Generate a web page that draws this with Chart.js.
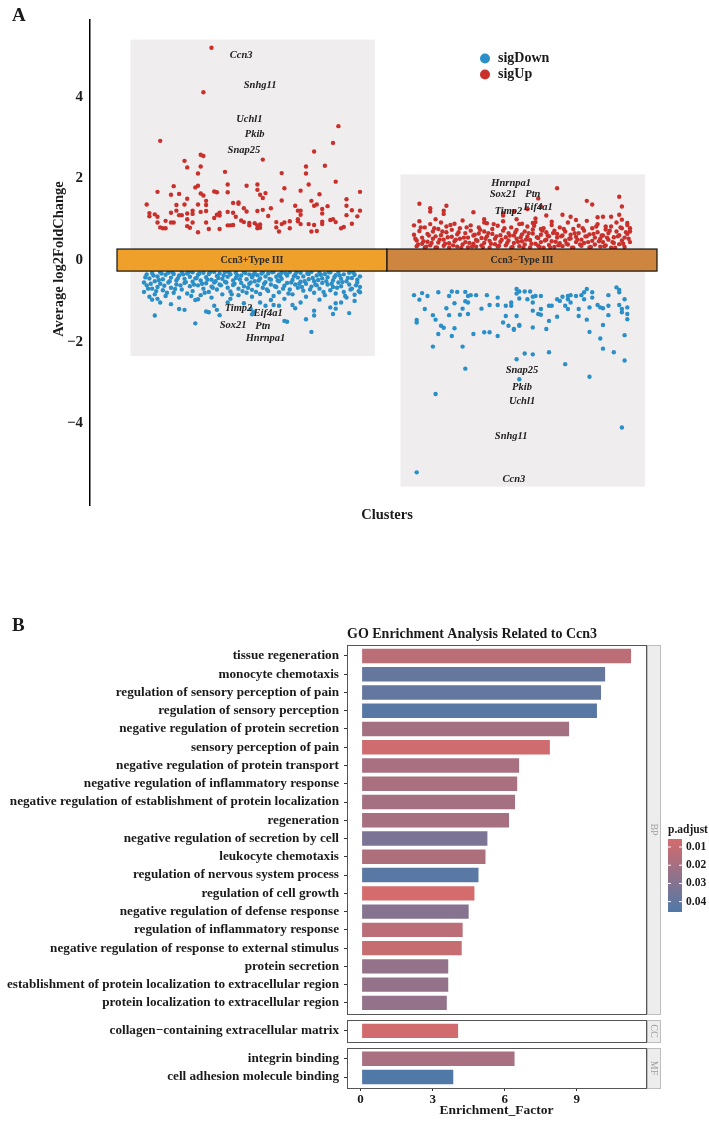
<!DOCTYPE html>
<html>
<head>
<meta charset="utf-8">
<script src="https://cdn.jsdelivr.net/npm/chart.js@4.4.1/dist/chart.umd.min.js"></script>
<style>
  body { margin: 0; background: #fff; }
  #page { position: relative; width: 709px; height: 1122px; overflow: hidden; }
  canvas { position: absolute; left: 0; }
  #volcano { top: 0; }
  #goBars { top: 600px; }
</style>
</head>
<body>
<div id="page">
  <canvas id="volcano" width="709" height="560"></canvas>
  <canvas id="goBars" width="709" height="522"></canvas>
</div>
<script>
// ---------- Panel A data: [jitter offset from cluster centre, average log2FC] ----------
const clusters = ['Ccn3+Type III', 'Ccn3\u2212Type III'];
const yTicksA = [-4, -2, 0, 2, 4];

const upCcn3Pos = [
  [-0.15,5.20],[-0.18,4.11],[-0.34,2.92],[0.32,3.28],[0.30,2.87],[0.23,2.66],[-0.19,2.58],[-0.18,2.55],[0.04,2.46],[-0.25,2.43],
  [-0.24,2.27],[-0.19,2.29],[-0.20,2.12],[-0.10,2.16],[0.11,2.13],[0.20,2.29],[0.20,2.12],[0.27,2.31],[0.31,1.92],[0.21,1.85],
  [0.12,1.76],[0.18,1.70],[0.40,1.67],[0.25,1.61],[0.35,1.49],[-0.35,1.67],[-0.29,1.81],[-0.30,1.60],[-0.27,1.62],[-0.21,1.78],
  [-0.20,1.82],[-0.19,1.63],[-0.18,1.58],[-0.14,1.68],[-0.13,1.66],[-0.09,1.85],[-0.09,1.66],[-0.02,1.82],[0.02,1.85],[0.02,1.72],
  [0.03,1.60],[0.05,1.64],[0.04,1.52],[-0.39,1.36],[-0.24,1.50],[-0.17,1.45],[-0.28,1.35],[-0.25,1.36],[-0.20,1.36],[-0.17,1.35],
  [-0.07,1.40],[-0.05,1.38],[-0.05,1.41],[-0.03,1.27],[-0.02,1.19],[0.02,1.20],[0.04,1.23],[0.07,1.27],[0.11,1.46],[0.16,1.33],
  [0.18,1.21],[0.22,1.45],[0.23,1.33],[0.24,1.36],[0.28,1.32],[0.26,1.25],[0.26,1.14],[0.35,1.33],[0.35,1.10],[0.37,1.22],
  [0.40,1.21],[0.39,1.07],[-0.38,1.15],[-0.38,1.07],[-0.36,1.12],[-0.35,1.06],[-0.30,1.16],[-0.28,1.21],[-0.27,1.10],[-0.26,1.10],
  [-0.24,1.14],[-0.22,1.21],[-0.22,1.13],[-0.19,1.18],[-0.17,1.20],[-0.13,1.11],[-0.12,1.16],[-0.07,1.16],[-0.06,1.06],[-0.04,0.97],
  [-0.35,0.92],[-0.34,0.80],[-0.33,0.78],[-0.32,0.78],[-0.32,0.96],[-0.30,0.92],[-0.29,0.92],[-0.24,1.00],[-0.24,0.83],[-0.23,0.79],
  [-0.22,0.92],[-0.20,0.68],[-0.17,0.92],[-0.16,0.76],[-0.14,1.03],[-0.12,0.76],[-0.09,0.85],[-0.08,0.85],[-0.07,0.86],[-0.03,0.93],
  [-0.01,0.91],[-0.01,0.85],[0.01,0.90],[0.02,0.78],[0.03,0.87],[0.03,0.79],[0.09,0.93],[0.09,0.80],[0.10,0.70],[0.11,0.88],
  [0.12,0.92],[0.14,0.95],[0.14,0.78],[0.17,0.95],[0.18,0.88],[0.17,1.00],[0.21,0.88],[0.22,0.70],[0.23,0.86],[0.24,0.71],
  [0.26,0.88],[0.26,0.94],[0.29,0.98],[0.30,1.00],[0.31,0.93],[0.33,0.78],[0.34,0.81],[0.37,0.89],[0.17,1.21],[0.18,1.11],
  [-0.12,1.09],[0.02,0.85],[0.06,1.08],[-0.09,1.18]
];

const downCcn3Pos = [
  [-0.40,-0.55],[-0.40,-0.78],[-0.39,-0.35],[-0.39,-0.62],[-0.38,-0.45],[-0.38,-0.90],[-0.37,-0.70],[-0.37,-0.32],[-0.36,-0.52],[-0.36,-0.84],
  [-0.35,-0.40],[-0.35,-0.66],[-0.35,-0.95],[-0.34,-0.30],[-0.34,-0.58],[-0.33,-0.47],[-0.33,-0.74],[-0.32,-0.36],[-0.32,-0.88],[-0.31,-0.55],
  [-0.31,-0.31],[-0.30,-0.68],[-0.30,-0.43],[-0.29,-0.80],[-0.29,-0.34],[-0.28,-0.50],[-0.28,-0.60],[-0.27,-0.38],[-0.27,-0.92],[-0.26,-0.29],
  [-0.26,-0.72],[-0.25,-0.46],[-0.25,-0.56],[-0.24,-0.33],[-0.24,-0.82],[-0.23,-0.64],[-0.23,-0.41],[-0.22,-0.30],[-0.22,-0.53],[-0.22,-0.76],
  [-0.21,-0.45],[-0.21,-0.98],[-0.20,-0.36],[-0.20,-0.62],[-0.19,-0.50],[-0.19,-0.86],[-0.18,-0.31],[-0.18,-0.70],[-0.17,-0.42],[-0.17,-0.57],
  [-0.16,-0.34],[-0.16,-0.78],[-0.15,-0.48],[-0.15,-0.65],[-0.15,-0.92],[-0.14,-0.29],[-0.14,-0.55],[-0.13,-0.39],[-0.13,-0.72],[-0.12,-0.60],
  [-0.12,-0.33],[-0.11,-0.46],[-0.11,-0.84],[-0.10,-0.30],[-0.10,-0.53],[-0.09,-0.68],[-0.09,-0.41],[-0.08,-0.35],[-0.08,-0.77],[-0.08,-0.95],
  [-0.07,-0.50],[-0.07,-0.61],[-0.06,-0.31],[-0.06,-0.44],[-0.05,-0.70],[-0.05,-0.86],[-0.04,-0.38],[-0.04,-0.56],[-0.03,-0.29],[-0.03,-0.64],
  [-0.02,-0.47],[-0.02,-0.80],[-0.01,-0.35],[-0.01,-0.58],[0.00,-0.42],[0.00,-0.73],[0.00,-0.90],[0.01,-0.31],[0.01,-0.52],[0.02,-0.62],
  [0.02,-0.37],[0.03,-0.45],[0.03,-0.83],[0.04,-0.30],[0.04,-0.68],[0.05,-0.54],[0.05,-0.40],[0.06,-0.33],[0.06,-0.76],[0.07,-0.48],
  [0.07,-0.60],[0.08,-0.29],[0.08,-0.88],[0.09,-0.41],[0.09,-0.66],[0.10,-0.35],[0.10,-0.52],[0.10,-0.79],[0.11,-0.46],[0.11,-0.31],
  [0.12,-0.63],[0.12,-0.95],[0.13,-0.38],[0.13,-0.56],[0.14,-0.30],[0.14,-0.72],[0.15,-0.49],[0.15,-0.84],[0.16,-0.36],[0.16,-0.60],
  [0.17,-0.43],[0.17,-0.68],[0.18,-0.31],[0.18,-0.53],[0.19,-0.75],[0.19,-0.40],[0.20,-0.58],[0.20,-0.90],[0.21,-0.34],[0.21,-0.47],
  [0.22,-0.65],[0.22,-0.29],[0.23,-0.52],[0.23,-0.80],[0.24,-0.38],[0.24,-0.62],[0.25,-0.31],[0.25,-0.70],[0.25,-0.97],[0.26,-0.45],
  [0.26,-0.56],[0.27,-0.34],[0.27,-0.86],[0.28,-0.60],[0.28,-0.42],[0.29,-0.30],[0.29,-0.74],[0.30,-0.50],[0.30,-0.66],[0.31,-0.37],
  [0.31,-0.82],[0.32,-0.29],[0.32,-0.55],[0.33,-0.46],[0.33,-0.64],[0.34,-0.35],[0.34,-0.78],[0.35,-0.52],[0.35,-0.92],[0.36,-0.31],
  [0.36,-0.60],[0.37,-0.44],[0.37,-0.70],[0.38,-0.36],[0.38,-0.85],[0.39,-0.55],[0.39,-0.48],[0.40,-0.40],[0.40,-0.66],
  [-0.395,-0.42],[-0.385,-0.70],[-0.375,-0.58],[-0.365,-0.38],[-0.355,-0.76],[-0.345,-0.49],[-0.335,-0.33],[-0.325,-0.63],[-0.315,-0.80],[-0.305,-0.52],
  [-0.295,-0.30],[-0.285,-0.71],[-0.275,-0.45],[-0.265,-0.62],[-0.255,-0.35],[-0.245,-0.54],[-0.235,-0.30],[-0.225,-0.88],[-0.215,-0.60],[-0.205,-0.44],
  [-0.195,-0.33],[-0.185,-0.58],[-0.175,-0.80],[-0.165,-0.48],[-0.155,-0.30],[-0.145,-0.68],[-0.135,-0.52],[-0.125,-0.44],[-0.115,-0.62],[-0.105,-0.38],
  [-0.095,-0.55],[-0.085,-0.30],[-0.075,-0.84],[-0.065,-0.58],[-0.055,-0.37],[-0.045,-0.47],[-0.035,-0.76],[-0.025,-0.32],[-0.015,-0.68],[-0.005,-0.55],
  [0.005,-0.36],[0.015,-0.78],[0.025,-0.50],[0.035,-0.33],[0.045,-0.58],[0.055,-0.72],[0.065,-0.46],[0.075,-0.30],[0.085,-0.64],[0.095,-0.50],
  [0.105,-0.40],[0.115,-0.70],[0.125,-0.33],[0.135,-0.82],[0.145,-0.55],[0.155,-0.40],[0.165,-0.30],[0.175,-0.58],[0.185,-0.66],[0.195,-0.52],
  [0.205,-0.33],[0.215,-0.72],[0.225,-0.44],[0.235,-0.60],[0.245,-0.49],[0.255,-0.36],[0.265,-0.78],[0.275,-0.52],[0.285,-0.30],[0.295,-0.58],
  [0.305,-0.42],[0.315,-0.68],[0.325,-0.38],[0.335,-0.54],[0.345,-0.88],[0.355,-0.44],[0.365,-0.72],[0.375,-0.30],[0.385,-0.62],[0.395,-0.76],
  [-0.36,-1.36],[-0.37,-0.97],[-0.34,-1.04],[-0.30,-1.08],[-0.27,-1.20],[-0.25,-1.22],[-0.21,-1.55],[-0.20,-0.96],[-0.17,-1.26],[-0.14,-1.12],
  [-0.13,-1.22],[-0.12,-1.35],[-0.09,-1.04],[-0.03,-1.06],[-0.005,-1.20],[0.005,-1.27],[0.03,-1.04],[0.05,-1.12],[0.07,-0.98],[0.08,-1.10],
  [0.10,-1.12],[0.12,-1.49],[0.16,-1.18],[0.18,-1.04],[0.20,-1.45],[0.22,-1.76],[0.23,-1.36],[0.23,-1.24],[0.29,-1.16],[0.31,-1.06],
  [0.31,-1.19],[0.33,-1.04],[0.36,-1.30],[0.38,-1.00],[0.40,-0.79],[0.13,-1.51],[-0.16,-1.28],[0.00,-1.33],[0.15,-1.10],[0.30,-1.32]
];

const upCcn3Neg = [
  [-0.40,0.62],[-0.40,0.85],[-0.39,0.34],[-0.39,0.48],[-0.38,0.71],[-0.38,0.95],[-0.37,0.40],[-0.37,0.55],[-0.36,0.30],[-0.36,0.80],
  [-0.35,0.64],[-0.35,0.45],[-0.34,0.88],[-0.34,0.36],[-0.33,0.52],[-0.33,0.70],[-0.32,0.31],[-0.32,0.58],[-0.31,0.76],[-0.31,0.43],
  [-0.30,0.92],[-0.30,0.61],[-0.29,0.35],[-0.29,0.50],[-0.28,0.68],[-0.28,0.82],[-0.27,0.41],[-0.27,0.30],[-0.26,0.57],[-0.26,0.74],
  [-0.25,0.46],[-0.25,0.89],[-0.24,0.33],[-0.24,0.63],[-0.23,0.52],[-0.23,0.78],[-0.22,0.38],[-0.22,0.97],[-0.21,0.66],[-0.21,0.44],
  [-0.20,0.31],[-0.20,0.55],[-0.19,0.72],[-0.19,0.85],[-0.18,0.40],[-0.18,0.60],[-0.17,0.49],[-0.17,0.33],[-0.16,0.80],[-0.16,0.65],
  [-0.15,0.36],[-0.15,0.54],[-0.14,0.42],[-0.14,0.70],[-0.13,0.58],[-0.13,0.90],[-0.12,0.30],[-0.12,0.47],[-0.11,0.64],[-0.11,0.76],
  [-0.10,0.39],[-0.10,0.52],[-0.09,0.84],[-0.09,0.33],[-0.08,0.61],[-0.08,0.45],[-0.07,0.72],[-0.07,0.95],[-0.06,0.36],[-0.06,0.56],
  [-0.05,0.48],[-0.05,0.66],[-0.04,0.30],[-0.04,0.80],[-0.03,0.42],[-0.03,0.60],[-0.02,0.52],[-0.02,0.74],[-0.01,0.34],[-0.01,0.88],
  [0.00,0.46],[0.00,0.63],[0.01,0.70],[0.01,0.38],[0.02,0.57],[0.02,0.82],[0.03,0.31],[0.03,0.49],[0.04,0.65],[0.04,0.75],
  [0.05,0.40],[0.05,0.93],[0.06,0.54],[0.06,0.35],[0.07,0.62],[0.07,0.44],[0.08,0.78],[0.08,0.30],[0.09,0.50],[0.09,0.68],
  [0.10,0.37],[0.10,0.58],[0.11,0.86],[0.11,0.46],[0.12,0.32],[0.12,0.72],[0.13,0.55],[0.13,0.64],[0.14,0.41],[0.14,0.80],
  [0.15,0.60],[0.15,0.34],[0.16,0.48],[0.16,0.70],[0.17,0.92],[0.17,0.38],[0.18,0.53],[0.18,0.62],[0.19,0.30],[0.19,0.76],
  [0.20,0.44],[0.20,0.57],[0.21,0.66],[0.21,0.84],[0.22,0.35],[0.22,0.50],[0.23,0.72],[0.23,0.42],[0.24,0.58],[0.24,0.96],
  [0.25,0.31],[0.25,0.63],[0.26,0.47],[0.26,0.78],[0.27,0.38],[0.27,0.55],[0.28,0.68],[0.28,0.88],[0.29,0.33],[0.29,0.52],
  [0.30,0.60],[0.30,0.44],[0.31,0.75],[0.31,0.36],[0.32,0.50],[0.32,0.66],[0.33,0.30],[0.33,0.82],[0.34,0.56],[0.34,0.42],
  [0.35,0.70],[0.35,0.92],[0.36,0.39],[0.36,0.61],[0.37,0.48],[0.37,0.78],[0.38,0.32],[0.38,0.55],[0.39,0.64],[0.39,0.86],
  [0.40,0.44],[0.40,0.70],
  [-0.395,0.52],[-0.385,0.38],[-0.375,0.80],[-0.365,0.46],[-0.355,0.33],[-0.345,0.60],[-0.335,0.42],[-0.325,0.78],[-0.315,0.30],[-0.305,0.50],
  [-0.295,0.70],[-0.285,0.40],[-0.275,0.56],[-0.265,0.86],[-0.255,0.36],[-0.245,0.50],[-0.235,0.68],[-0.225,0.30],[-0.215,0.55],[-0.205,0.80],
  [-0.195,0.42],[-0.185,0.33],[-0.175,0.62],[-0.165,0.47],[-0.155,0.74],[-0.145,0.31],[-0.135,0.52],[-0.125,0.66],[-0.115,0.40],[-0.105,0.88],
  [-0.095,0.58],[-0.085,0.35],[-0.075,0.50],[-0.065,0.78],[-0.055,0.42],[-0.045,0.60],[-0.035,0.32],[-0.025,0.68],[-0.015,0.45],[-0.005,0.56],
  [0.005,0.30],[0.015,0.50],[0.025,0.66],[0.035,0.40],[0.045,0.84],[0.055,0.56],[0.065,0.32],[0.075,0.72],[0.085,0.48],[0.095,0.60],
  [0.105,0.30],[0.115,0.66],[0.125,0.45],[0.135,0.36],[0.145,0.58],[0.155,0.76],[0.165,0.40],[0.175,0.52],[0.185,0.30],[0.195,0.66],
  [0.205,0.50],[0.215,0.38],[0.225,0.78],[0.235,0.58],[0.245,0.44],[0.255,0.32],[0.265,0.64],[0.275,0.82],[0.285,0.46],[0.295,0.60],
  [0.305,0.34],[0.315,0.55],[0.325,0.72],[0.335,0.44],[0.345,0.30],[0.355,0.58],[0.365,0.80],[0.375,0.40],[0.385,0.68],[0.395,0.52],
  [0.13,1.76],[-0.38,1.38],[-0.34,1.27],[-0.34,1.19],[-0.28,1.33],[-0.29,1.21],[-0.29,1.13],[-0.32,1.00],[-0.18,1.17],[-0.14,1.00],
  [-0.14,0.92],[-0.07,1.15],[-0.07,1.09],[-0.03,1.19],[-0.02,1.00],[0.06,1.51],[0.07,1.31],[0.09,1.09],[0.11,0.94],[0.15,1.11],
  [0.18,1.06],[0.20,0.98],[0.24,1.45],[0.26,1.36],[0.28,1.05],[0.30,1.06],[0.31,0.82],[0.33,1.06],[0.36,1.55],[0.37,1.31],
  [0.36,1.11],[0.37,0.99],[0.39,0.91],[0.40,0.78],[0.05,1.02],[0.02,1.25],[0.00,0.89],[0.04,0.91],[0.07,0.76]
];

const downCcn3Neg = [
  [-0.40,-0.86],[-0.38,-0.97],[-0.37,-0.81],[-0.35,-0.88],[-0.36,-1.20],[-0.39,-1.53],[-0.39,-1.47],[-0.33,-1.35],[-0.32,-1.46],[-0.31,-0.79],
  [-0.30,-1.61],[-0.29,-1.66],[-0.31,-1.81],[-0.33,-2.12],[-0.28,-1.18],[-0.27,-1.35],[-0.27,-0.88],[-0.26,-0.77],[-0.25,-1.06],[-0.26,-1.86],
  [-0.25,-1.67],[-0.24,-0.78],[-0.23,-1.34],[-0.22,-1.19],[-0.21,-0.78],[-0.21,-1.01],[-0.20,-0.88],[-0.20,-1.04],[-0.20,-1.32],[-0.19,-0.86],
  [-0.17,-0.86],[-0.22,-2.12],[-0.32,-3.28],[-0.39,-5.20],[-0.21,-2.66],[-0.18,-1.81],[-0.15,-1.19],[-0.14,-1.77],[-0.13,-0.86],[-0.12,-1.10],
  [-0.12,-1.77],[-0.09,-1.10],[-0.09,-1.86],[-0.09,-0.92],[-0.07,-1.53],[-0.06,-1.12],[-0.06,-1.37],[-0.05,-1.61],[-0.04,-1.12],[-0.04,-1.04],
  [-0.03,-1.71],[-0.03,-1.69],[-0.02,-0.71],[-0.02,-0.82],[-0.01,-1.61],[-0.01,-1.59],[-0.02,-1.37],[-0.01,-0.94],[-0.01,-0.77],[0.01,-0.77],
  [0.02,-0.96],[0.03,-0.77],[0.04,-0.90],[0.04,-1.04],[0.04,-1.24],[0.04,-1.65],[0.05,-0.88],[0.07,-0.88],[0.06,-1.32],[0.07,-1.34],
  [0.07,-1.20],[-0.02,-2.43],[0.01,-2.29],[0.04,-2.31],[-0.01,-2.92],[0.10,-2.26],[0.10,-1.49],[0.10,-1.12],[0.11,-1.12],[0.13,-0.96],
  [0.13,-1.39],[0.14,-1.00],[0.15,-0.90],[0.16,-1.12],[0.16,-2.55],[0.17,-0.88],[0.17,-0.96],[0.18,-0.86],[0.17,-1.20],[0.18,-1.04],
  [0.20,-0.88],[0.21,-1.20],[0.22,-0.86],[0.23,-0.79],[0.24,-0.71],[0.23,-0.96],[0.25,-1.16],[0.24,-1.46],[0.25,-1.76],[0.25,-2.86],
  [0.26,-0.79],[0.28,-1.10],[0.29,-1.16],[0.30,-1.59],[0.29,-1.92],[0.30,-1.18],[0.30,-2.17],[0.32,-1.12],[0.32,-1.35],[0.32,-0.86],
  [0.34,-2.26],[0.35,-0.67],[0.36,-0.73],[0.36,-1.10],[0.37,-1.20],[0.37,-1.28],[0.38,-0.96],[0.38,-1.84],[0.38,-2.46],[0.39,-1.16],
  [0.39,-1.32],[0.39,-1.45],[0.37,-4.10],[0.36,-0.79],[0.21,-1.37],[0.26,-0.92],[0.09,-1.69]
];

// shaded cluster boxes (log2FC range per cluster)
const boxTop = [5.40, 2.10];
const boxBottom = [-2.35, -5.55];

// labelled genes: [gene, offset, log2FC]
const genesPos = [
  ['Ccn3', -0.04, 5.01], ['Snhg11', 0.03, 4.27], ['Uchl1', -0.01, 3.46], ['Pkib', 0.01, 3.09], ['Snap25', -0.03, 2.68],
  ['Timp2', -0.05, -1.18], ['Eif4a1', 0.06, -1.30], ['Sox21', -0.07, -1.59], ['Ptn', 0.04, -1.62], ['Hnrnpa1', 0.05, -1.91]
];
const genesNeg = [
  ['Hnrnpa1', -0.04, 1.88], ['Sox21', -0.07, 1.60], ['Ptn', 0.04, 1.62], ['Timp2', -0.05, 1.19], ['Eif4a1', 0.06, 1.29],
  ['Snap25', 0.00, -2.69], ['Pkib', 0.00, -3.11], ['Uchl1', 0.00, -3.47], ['Snhg11', -0.04, -4.31], ['Ccn3', -0.03, -5.38]
];

// ---------- Panel B data ----------
const goTerms = [
  'tissue regeneration', 'monocyte chemotaxis', 'regulation of sensory perception of pain', 'regulation of sensory perception',
  'negative regulation of protein secretion', 'sensory perception of pain', 'negative regulation of protein transport',
  'negative regulation of inflammatory response', 'negative regulation of establishment of protein localization', 'regeneration',
  'negative regulation of secretion by cell', 'leukocyte chemotaxis', 'regulation of nervous system process', 'regulation of cell growth',
  'negative regulation of defense response', 'regulation of inflammatory response', 'negative regulation of response to external stimulus',
  'protein secretion', 'establishment of protein localization to extracellular region', 'protein localization to extracellular region',
  'collagen\u2212containing extracellular matrix', 'integrin binding', 'cell adhesion molecule binding'
];
const goFactor = [11.30, 10.22, 10.05, 9.88, 8.72, 7.92, 6.64, 6.56, 6.47, 6.22, 5.32, 5.24, 4.95, 4.78, 4.54, 4.29, 4.25, 3.69, 3.69, 3.63, 4.10, 6.45, 3.90];
const goPadj = [0.0128, 0.0389, 0.0399, 0.0433, 0.0206, 0.0075, 0.0191, 0.0186, 0.0201, 0.0196, 0.0327, 0.0172, 0.0428, 0.0056, 0.0297, 0.0133, 0.0099, 0.0249, 0.0249, 0.0254, 0.0066, 0.0191, 0.0457];
const goOntology = ['BP','BP','BP','BP','BP','BP','BP','BP','BP','BP','BP','BP','BP','BP','BP','BP','BP','BP','BP','BP','CC','MF','MF'];
const xTicksB = [0, 3, 6, 9];
const padjTicks = [0.01, 0.02, 0.03, 0.04];
const padjRange = [0.0056, 0.0457];

// ---------- shared style ----------
const serif = '"Liberation Serif", "Times New Roman", serif';
Chart.defaults.font.family = serif;
const red = '#C9302C';
const blue = '#2B8FC7';
const bandColors = ['#EEA02B', '#CD853F'];
const ink = '#1a1a1a';

function toPoints(list, centre) {
  return list.map(p => ({ x: centre + p[0], y: p[1] }));
}

// ---------- Panel A ----------
const volcanoDecor = {
  id: 'volcanoDecor',
  beforeDatasetsDraw(chart) {
    const { ctx, scales: { x, y } } = chart;
    ctx.save();
    ctx.fillStyle = '#EFEDED';
    clusters.forEach((c, i) => {
      const left = x.getPixelForValue(i + 1 - 0.45);
      const right = x.getPixelForValue(i + 1 + 0.455);
      const top = y.getPixelForValue(boxTop[i]);
      const bottom = y.getPixelForValue(boxBottom[i]);
      ctx.fillRect(left, top, right - left, bottom - top);
    });
    ctx.restore();
  },
  afterDatasetsDraw(chart) {
    const { ctx, scales: { x, y } } = chart;
    ctx.save();
    // cluster bands over zero
    const top = y.getPixelForValue(0.27);
    const bottom = y.getPixelForValue(-0.27);
    clusters.forEach((c, i) => {
      const left = x.getPixelForValue(i + 0.5);
      const right = x.getPixelForValue(i + 1.5);
      ctx.fillStyle = bandColors[i];
      ctx.fillRect(left, top, right - left, bottom - top);
      ctx.strokeStyle = '#111';
      ctx.lineWidth = 1.2;
      ctx.strokeRect(left, top, right - left, bottom - top);
      ctx.fillStyle = '#2a2a2a';
      ctx.font = 'bold 10px ' + serif;
      ctx.textAlign = 'center';
      ctx.textBaseline = 'middle';
      ctx.fillText(c, (left + right) / 2, (top + bottom) / 2 + 0.5);
    });
    // gene labels
    ctx.font = 'italic bold 10.5px ' + serif;
    ctx.fillStyle = '#222';
    [genesPos, genesNeg].forEach((list, i) => {
      list.forEach(g => {
        ctx.fillText(g[0], x.getPixelForValue(i + 1 + g[1]), y.getPixelForValue(g[2]));
      });
    });
    ctx.restore();
  },
  afterDraw(chart) {
    const { ctx, chartArea: a } = chart;
    ctx.save();
    ctx.fillStyle = ink;
    // panel letter
    ctx.font = 'bold 19px ' + serif;
    ctx.textAlign = 'left';
    ctx.textBaseline = 'alphabetic';
    ctx.fillText('A', 12, 21);
    // axis titles
    ctx.font = 'bold 14.5px ' + serif;
    ctx.textAlign = 'center';
    ctx.textBaseline = 'middle';
    ctx.fillText('Clusters', (a.left + a.right) / 2, 515);
    ctx.translate(59, 259);
    ctx.rotate(-Math.PI / 2);
    ctx.fillText('Average log2FoldChange', 0, 0);
    ctx.restore();
    // legend
    ctx.save();
    [['sigDown', blue, 58.5], ['sigUp', red, 74.5]].forEach(([lab, col, ly]) => {
      ctx.fillStyle = col;
      ctx.beginPath();
      ctx.arc(485, ly, 5, 0, Math.PI * 2);
      ctx.fill();
      ctx.fillStyle = ink;
      ctx.font = 'bold 14px ' + serif;
      ctx.textAlign = 'left';
      ctx.textBaseline = 'middle';
      ctx.fillText(lab, 498, ly);
    });
    ctx.restore();
  }
};

new Chart(document.getElementById('volcano'), {
  type: 'scatter',
  data: {
    datasets: [
      { label: 'sigUp', data: toPoints(upCcn3Pos, 1), backgroundColor: red },
      { label: 'sigUp', data: toPoints(upCcn3Neg, 2), backgroundColor: red },
      { label: 'sigDown', data: toPoints(downCcn3Pos, 1), backgroundColor: blue },
      { label: 'sigDown', data: toPoints(downCcn3Neg, 2), backgroundColor: blue }
    ]
  },
  options: {
    responsive: false,
    animation: false,
    devicePixelRatio: 1,
    elements: { point: { radius: 2.2, borderWidth: 0 } },
    layout: { padding: { top: 20, right: 25, bottom: 55, left: 0 } },
    plugins: { legend: { display: false }, tooltip: { enabled: false } },
    scales: {
      x: { type: 'linear', min: 0.4, max: 2.6, display: false },
      y: {
        type: 'linear', min: -6.0, max: 5.88,
        afterBuildTicks: s => { s.ticks = yTicksA.map(v => ({ value: v })); },
        afterFit: s => { s.width = 90; },
        grid: { display: false, drawTicks: false },
        border: { display: true, color: '#000', width: 1.5 },
        ticks: {
          padding: 7, color: ink, font: { size: 15, weight: 'bold' },
          callback: v => (v < 0 ? '\u2212' + Math.abs(v) : String(v))
        }
      }
    }
  },
  plugins: [volcanoDecor]
});

// ---------- Panel B ----------
// stack facets: one unit per term, padding inside each panel, small gap between panels
const facetPad = 0.6;
const facetGap = 0.33;
const rowPos = [];
const facets = [];
let pos = 0;
goOntology.forEach((ont, i) => {
  if (i === 0 || ont !== goOntology[i - 1]) {
    if (i > 0) pos += 2 * facetPad + facetGap - 1;
    facets.push({ name: ont, start: pos - facetPad, end: pos + facetPad });
  }
  rowPos.push(pos);
  facets[facets.length - 1].end = pos + facetPad;
  pos += 1;
});

const lowCol = [212, 107, 108];
const highCol = [80, 121, 168];
function padjColor(p) {
  const t = Math.min(1, Math.max(0, (p - padjRange[0]) / (padjRange[1] - padjRange[0])));
  const c = lowCol.map((v, k) => Math.round(v + (highCol[k] - v) * t));
  return `rgb(${c.join(',')})`;
}

const goDecor = {
  id: 'goDecor',
  afterDraw(chart) {
    const { ctx, chartArea: a, scales: { y } } = chart;
    ctx.save();
    facets.forEach(f => {
      const top = Math.round(y.getPixelForValue(f.start));
      const bottom = Math.round(y.getPixelForValue(f.end));
      ctx.strokeStyle = '#555';
      ctx.lineWidth = 1;
      ctx.strokeRect(a.left + 0.5, top + 0.5, a.right - a.left, bottom - top);
      // strip on the right
      ctx.fillStyle = '#EEEDED';
      ctx.fillRect(a.right + 1, top, 13, bottom - top);
      ctx.strokeStyle = '#BDBDBD';
      ctx.strokeRect(a.right + 1.5, top + 0.5, 13, bottom - top);
      ctx.save();
      ctx.translate(a.right + 8, (top + bottom) / 2);
      ctx.rotate(Math.PI / 2);
      ctx.fillStyle = '#9c9c9c';
      ctx.font = '10px ' + serif;
      ctx.textAlign = 'center';
      ctx.textBaseline = 'middle';
      ctx.fillText(f.name, 0, 0);
      ctx.restore();
    });
    ctx.fillStyle = ink;
    ctx.font = 'bold 19px ' + serif;
    ctx.textAlign = 'left';
    ctx.textBaseline = 'alphabetic';
    ctx.fillText('B', 12, 31);
    ctx.font = 'bold 14px ' + serif;
    ctx.textBaseline = 'middle';
    ctx.fillText('GO Enrichment Analysis Related to Ccn3', a.left, 34);
    ctx.font = 'bold 13.5px ' + serif;
    ctx.textAlign = 'center';
    ctx.fillText('Enrichment_Factor', (a.left + a.right) / 2, 511);

    // p.adjust colour bar
    const barL = 668, barW = 14, barT = 239, barB = 312;
    ctx.font = 'bold 11.5px ' + serif;
    ctx.textAlign = 'left';
    ctx.fillText('p.adjust', barL, 230);
    const grad = ctx.createLinearGradient(0, barT, 0, barB);
    grad.addColorStop(0, padjColor(padjRange[0]));
    grad.addColorStop(0.5, padjColor((padjRange[0] + padjRange[1]) / 2));
    grad.addColorStop(1, padjColor(padjRange[1]));
    ctx.fillStyle = grad;
    ctx.fillRect(barL, barT, barW, barB - barT);
    ctx.strokeStyle = '#fff';
    ctx.lineWidth = 1;
    ctx.font = 'bold 11.5px ' + serif;
    padjTicks.forEach(p => {
      const ty = barT + (p - padjRange[0]) / (padjRange[1] - padjRange[0]) * (barB - barT);
      ctx.beginPath();
      ctx.moveTo(barL, ty); ctx.lineTo(barL + 3, ty);
      ctx.moveTo(barL + barW - 3, ty); ctx.lineTo(barL + barW, ty);
      ctx.stroke();
      ctx.fillStyle = ink;
      ctx.fillText(p.toFixed(2), barL + barW + 4, ty);
    });
    ctx.restore();
  }
};

new Chart(document.getElementById('goBars'), {
  type: 'bar',
  data: {
    datasets: [{
      data: goTerms.map((t, i) => ({ x: goFactor[i], y: rowPos[i] })),
      backgroundColor: goPadj.map(padjColor),
      borderColor: '#ffffff',
      borderWidth: 1,
      borderSkipped: false,
      barPercentage: 0.9,
      categoryPercentage: 1
    }]
  },
  options: {
    indexAxis: 'y',
    responsive: false,
    animation: false,
    devicePixelRatio: 1,
    layout: { padding: { top: 45, right: 63, bottom: 12, left: 0 } },
    plugins: { legend: { display: false }, tooltip: { enabled: false } },
    scales: {
      x: {
        type: 'linear', min: -0.566, max: 11.88, offset: false,
        afterBuildTicks: s => { s.ticks = xTicksB.map(v => ({ value: v })); },
        afterFit: s => { s.height = 22; },
        grid: { drawOnChartArea: false, drawTicks: true, tickLength: 3, color: '#333', offset: false },
        border: { display: false },
        ticks: { autoSkip: false, maxRotation: 0, padding: 1, color: ink, font: { size: 13, weight: 'bold' } }
      },
      y: {
        type: 'linear', reverse: true, offset: false,
        min: facets[0].start, max: facets[facets.length - 1].end,
        afterBuildTicks: s => { s.ticks = rowPos.map(v => ({ value: v })); },
        afterFit: s => { s.width = 347; },
        grid: { drawOnChartArea: false, drawTicks: true, tickLength: 3, color: '#333', offset: false },
        border: { display: false },
        ticks: {
          autoSkip: false, padding: 5, color: ink, font: { size: 13.2, weight: 'bold' },
          callback: v => goTerms[rowPos.indexOf(v)]
        }
      }
    }
  },
  plugins: [goDecor]
});
</script>
</body>
</html>
